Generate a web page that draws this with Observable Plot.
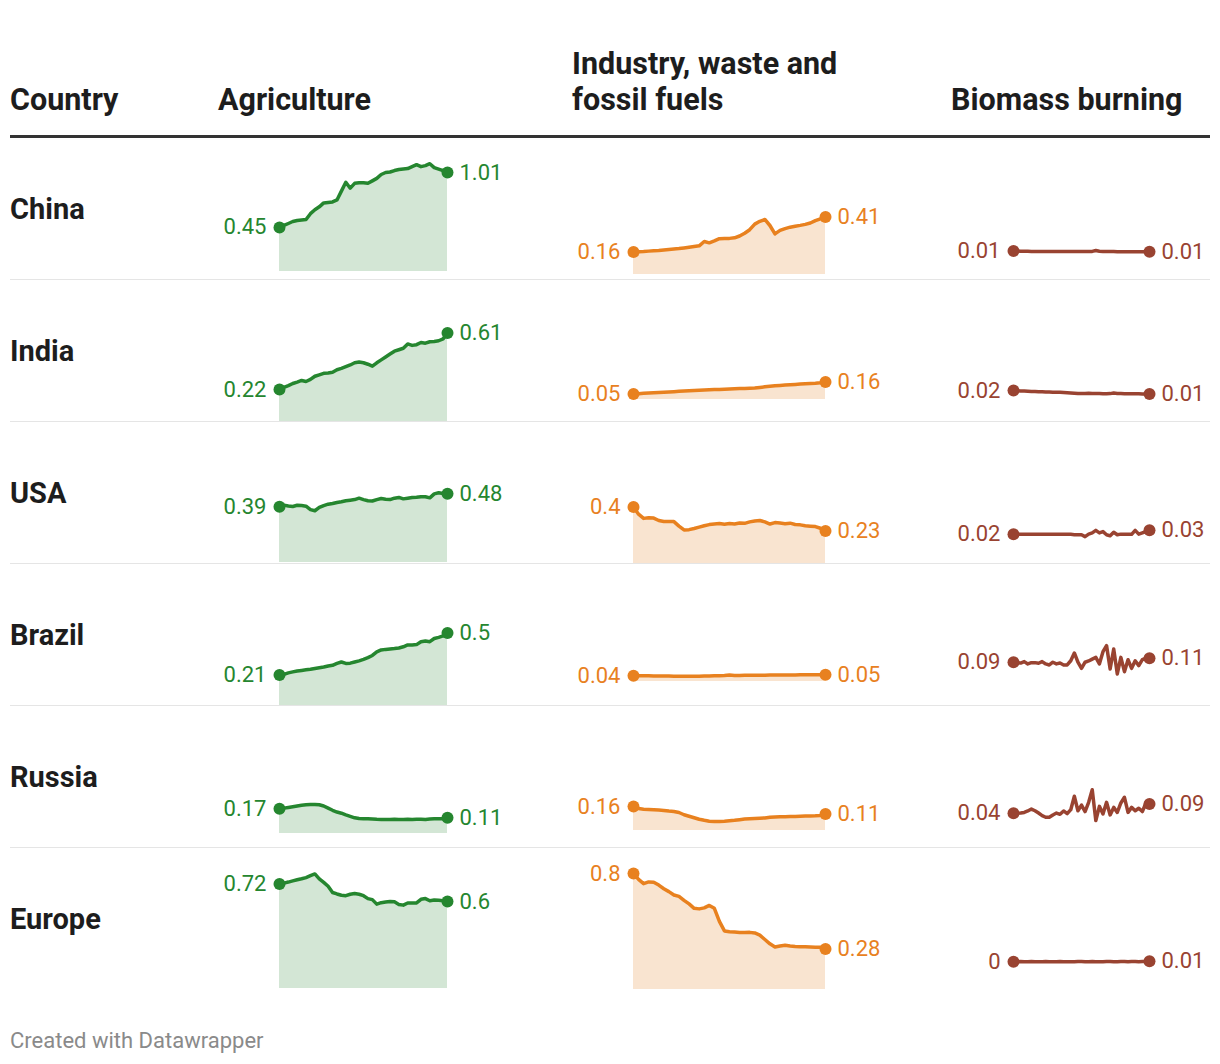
<!DOCTYPE html>
<html>
<head>
<meta charset="utf-8">
<script src="https://cdn.jsdelivr.net/npm/d3@7"></script>
<script src="https://cdn.jsdelivr.net/npm/@observablehq/plot@0.6"></script>
<style>
  html, body { margin: 0; padding: 0; background: #fff; }
  body { font-family: Roboto, "Noto Sans", sans-serif; color: #1d1d1d; }
  #wrap { position: relative; width: 1220px; height: 1064px; }
  .grid { display: grid; grid-template-columns: 200px 350px 380px 270px; }
  #header { position: absolute; left: 10px; top: 0; width: 1200px; height: 135px; border-bottom: 3px solid #333; align-items: end; }
  #header div { font-weight: 700; font-size: 30.5px; line-height: 36px; padding-bottom: 17px; white-space: nowrap; }
  #rows { position: absolute; left: 10px; top: 138px; width: 1200px; }
  .row { height: 141px; border-bottom: 1px solid #e5e5e5; }
  .row.last { border-bottom: none; }
  .country { font-weight: 700; font-size: 29px; display: flex; align-items: center; height: 141px; }
  .cell svg { display: block; }
  #footer { position: absolute; left: 10px; top: 1028px; font-size: 22px; color: #8a8a8a; }
</style>
</head>
<body>
<div id="wrap">
  <div id="header" class="grid"></div>
  <div id="rows"></div>
  <div id="footer">Created with Datawrapper</div>
</div>
<script>
// ---------- DATA ----------
const countries = ["China", "India", "USA", "Brazil", "Russia", "Europe"];
const headers = ["Country", "Agriculture", "Industry, waste and<br>fossil fuels", "Biomass burning"];

const agriChina  = [0.45,0.47,0.49,0.51,0.52,0.525,0.53,0.59,0.63,0.66,0.70,0.705,0.71,0.73,0.82,0.91,0.85,0.90,0.905,0.905,0.90,0.925,0.95,0.99,1.01,1.015,1.03,1.04,1.045,1.05,1.07,1.09,1.07,1.08,1.10,1.06,1.045,1.03,1.01];
const agriIndia  = [0.22,0.235,0.247,0.262,0.272,0.283,0.276,0.29,0.312,0.322,0.332,0.335,0.34,0.357,0.366,0.378,0.39,0.405,0.41,0.405,0.395,0.382,0.405,0.425,0.445,0.465,0.485,0.495,0.505,0.535,0.525,0.53,0.545,0.54,0.55,0.552,0.557,0.57,0.61];
const agriUSA    = [0.39,0.401,0.395,0.392,0.4,0.398,0.394,0.37,0.362,0.385,0.398,0.408,0.413,0.42,0.425,0.432,0.436,0.44,0.45,0.44,0.432,0.43,0.44,0.448,0.442,0.44,0.45,0.455,0.445,0.45,0.455,0.456,0.46,0.46,0.452,0.48,0.488,0.482,0.48];
const agriBrazil = [0.21,0.215,0.225,0.232,0.238,0.242,0.246,0.25,0.255,0.26,0.265,0.272,0.277,0.29,0.3,0.29,0.292,0.3,0.308,0.318,0.33,0.345,0.37,0.383,0.387,0.39,0.393,0.397,0.405,0.418,0.418,0.42,0.44,0.445,0.44,0.462,0.47,0.48,0.5];
const agriRussia = [0.17,0.175,0.18,0.185,0.19,0.195,0.198,0.2,0.2,0.198,0.19,0.175,0.16,0.148,0.14,0.128,0.118,0.108,0.103,0.102,0.101,0.1,0.098,0.097,0.096,0.097,0.098,0.096,0.097,0.098,0.097,0.098,0.098,0.097,0.1,0.101,0.101,0.102,0.108];
const agriEurope = [0.72,0.727,0.734,0.742,0.75,0.757,0.765,0.778,0.79,0.756,0.732,0.705,0.662,0.652,0.643,0.64,0.65,0.655,0.65,0.64,0.62,0.613,0.582,0.592,0.596,0.6,0.598,0.58,0.575,0.59,0.59,0.59,0.615,0.62,0.605,0.61,0.608,0.605,0.6];

const indChina  = [0.16,0.162,0.164,0.167,0.170,0.171,0.175,0.179,0.182,0.185,0.19,0.195,0.200,0.205,0.236,0.226,0.24,0.256,0.258,0.258,0.262,0.275,0.295,0.32,0.36,0.38,0.393,0.35,0.29,0.315,0.328,0.338,0.345,0.351,0.358,0.368,0.385,0.398,0.41];
const indIndia  = [0.05,0.053,0.056,0.058,0.061,0.064,0.066,0.069,0.071,0.074,0.077,0.08,0.082,0.084,0.086,0.088,0.09,0.092,0.094,0.096,0.098,0.099,0.10,0.102,0.105,0.11,0.115,0.12,0.125,0.128,0.131,0.134,0.137,0.14,0.143,0.146,0.148,0.152,0.16];
const indUSA    = [0.40,0.35,0.32,0.325,0.322,0.305,0.298,0.297,0.297,0.265,0.238,0.24,0.248,0.258,0.268,0.276,0.28,0.283,0.278,0.283,0.28,0.287,0.285,0.295,0.302,0.305,0.295,0.28,0.29,0.287,0.282,0.286,0.277,0.274,0.268,0.265,0.262,0.25,0.23];
const indBrazil = [0.04,0.04,0.04,0.04,0.039,0.039,0.039,0.038,0.037,0.036,0.036,0.036,0.037,0.037,0.038,0.039,0.04,0.041,0.042,0.045,0.042,0.042,0.043,0.043,0.044,0.044,0.044,0.045,0.045,0.045,0.046,0.046,0.046,0.047,0.047,0.047,0.047,0.048,0.048];
const indRussia = [0.16,0.147,0.142,0.14,0.138,0.136,0.134,0.13,0.127,0.12,0.105,0.095,0.085,0.075,0.068,0.062,0.06,0.06,0.062,0.065,0.068,0.072,0.076,0.078,0.08,0.082,0.084,0.088,0.09,0.091,0.092,0.093,0.094,0.095,0.096,0.097,0.098,0.1,0.11];
const indEurope = [0.8,0.76,0.73,0.742,0.74,0.72,0.695,0.675,0.652,0.642,0.615,0.59,0.56,0.556,0.563,0.58,0.56,0.47,0.404,0.399,0.396,0.393,0.393,0.394,0.39,0.375,0.345,0.315,0.293,0.3,0.305,0.3,0.297,0.295,0.294,0.293,0.292,0.292,0.28];

const bioChina  = [0.012,0.012,0.011,0.011,0.011,0.01,0.01,0.01,0.01,0.01,0.01,0.01,0.01,0.009,0.009,0.009,0.009,0.009,0.009,0.009,0.009,0.009,0.01,0.014,0.011,0.01,0.009,0.009,0.009,0.008,0.008,0.008,0.008,0.008,0.008,0.008,0.008,0.008,0.008];
const bioIndia  = [0.024,0.023,0.022,0.021,0.02,0.019,0.019,0.018,0.018,0.017,0.017,0.016,0.016,0.015,0.014,0.013,0.012,0.011,0.01,0.009,0.01,0.011,0.01,0.009,0.009,0.008,0.008,0.009,0.012,0.01,0.009,0.008,0.008,0.008,0.008,0.008,0.007,0.007,0.007];
const bioUSA    = [0.016,0.015,0.015,0.015,0.016,0.015,0.015,0.015,0.016,0.016,0.016,0.016,0.016,0.016,0.016,0.016,0.015,0.013,0.013,0.013,0.004,0.016,0.022,0.034,0.022,0.028,0.013,0.008,0.025,0.013,0.016,0.016,0.016,0.015,0.034,0.016,0.022,0.028,0.034];
const bioBrazil = [0.087,0.085,0.083,0.090,0.079,0.085,0.085,0.082,0.090,0.079,0.074,0.087,0.079,0.083,0.074,0.074,0.094,0.131,0.087,0.058,0.087,0.093,0.102,0.110,0.079,0.137,0.166,0.055,0.15,0.031,0.110,0.042,0.099,0.058,0.094,0.071,0.099,0.106,0.106];
const bioRussia = [0.044,0.044,0.045,0.048,0.055,0.064,0.056,0.045,0.033,0.025,0.025,0.036,0.045,0.039,0.055,0.042,0.061,0.125,0.056,0.083,0.052,0.096,0.156,0.009,0.077,0.041,0.096,0.036,0.072,0.048,0.093,0.12,0.048,0.072,0.056,0.068,0.052,0.093,0.088];
const bioEurope = [0.004,0.004,0.005,0.004,0.004,0.005,0.004,0.004,0.004,0.005,0.004,0.004,0.004,0.005,0.004,0.004,0.004,0.004,0.005,0.005,0.004,0.004,0.005,0.004,0.004,0.004,0.005,0.005,0.004,0.004,0.005,0.005,0.004,0.005,0.005,0.004,0.005,0.005,0.006];

// ---------- LAYOUT (scale ranges per cell, px) ----------
const rowContentH = 141;
const agriBase = [133, 141, 140, 141, 127, 140];
const agriK    = [98, 145, 143, 145, 145, 145];
const indBase  = [136, 119, 141, 117, 124, 141];
const indK     = [140, 110, 141, 143, 150, 145];
const bioBase  = [115, 115, 115, 116, 116, 114];
const bioK     = [210, 210, 210, 210, 210, 210];

const columns = [
  { series: [agriChina, agriIndia, agriUSA, agriBrazil, agriRussia, agriEurope], color: "#25862f", fill: "#d3e6d5", area: true, width: 350, x0: 69, x1: 237, base: agriBase, k: agriK },
  { series: [indChina, indIndia, indUSA, indBrazil, indRussia, indEurope], color: "#e8811f", fill: "#f9e4d0", area: true, width: 380, x0: 73, x1: 265, base: indBase, k: indK },
  { series: [bioChina, bioIndia, bioUSA, bioBrazil, bioRussia, bioEurope], color: "#994331", fill: null, area: false, width: 270, x0: 73, x1: 209, base: bioBase, k: bioK }
];

const fmt = d3.format(".2~f");

// header
const header = document.getElementById("header");
const headPad = [0, 8, 12, 11];
headers.forEach((h, i) => {
  const d = document.createElement("div");
  d.innerHTML = h;
  d.style.paddingLeft = headPad[i] + "px";
  header.appendChild(d);
});

// rows
const rowsEl = document.getElementById("rows");
countries.forEach((c, r) => {
  const row = document.createElement("div");
  row.className = "row grid" + (r === countries.length - 1 ? " last" : "");
  const name = document.createElement("div");
  name.className = "country";
  name.textContent = c;
  row.appendChild(name);
  columns.forEach(col => {
    const vals = col.series[r];
    const data = vals.map((v, i) => ({ i, v }));
    const ends = [data[0], data[data.length - 1]];
    const base = col.base[r], k = col.k[r];
    const marks = [];
    if (col.area) marks.push(Plot.areaY(data, { x: "i", y: "v", fill: col.fill }));
    marks.push(Plot.lineY(data, { x: "i", y: "v", stroke: col.color, strokeWidth: 3.5, strokeLinejoin: "round", strokeLinecap: "round" }));
    marks.push(Plot.dot(ends, { x: "i", y: "v", r: 6, fill: col.color }));
    marks.push(Plot.text([ends[0]], { x: "i", y: "v", text: d => fmt(d.v), textAnchor: "end", dx: -13, fill: col.color, fontSize: 22 }));
    marks.push(Plot.text([ends[1]], { x: "i", y: "v", text: d => fmt(d.v), textAnchor: "start", dx: 12, fill: col.color, fontSize: 22 }));
    const svg = Plot.plot({
      width: col.width,
      height: rowContentH,
      margin: 0,
      axis: null,
      x: { domain: [0, vals.length - 1], range: [col.x0, col.x1] },
      y: { domain: [0, 1], range: [base, base - k] },
      style: { fontFamily: "Roboto, sans-serif", background: "transparent", overflow: "hidden" },
      marks
    });
    const cell = document.createElement("div");
    cell.className = "cell";
    cell.appendChild(svg);
    row.appendChild(cell);
  });
  rowsEl.appendChild(row);
});
</script>
</body>
</html>
